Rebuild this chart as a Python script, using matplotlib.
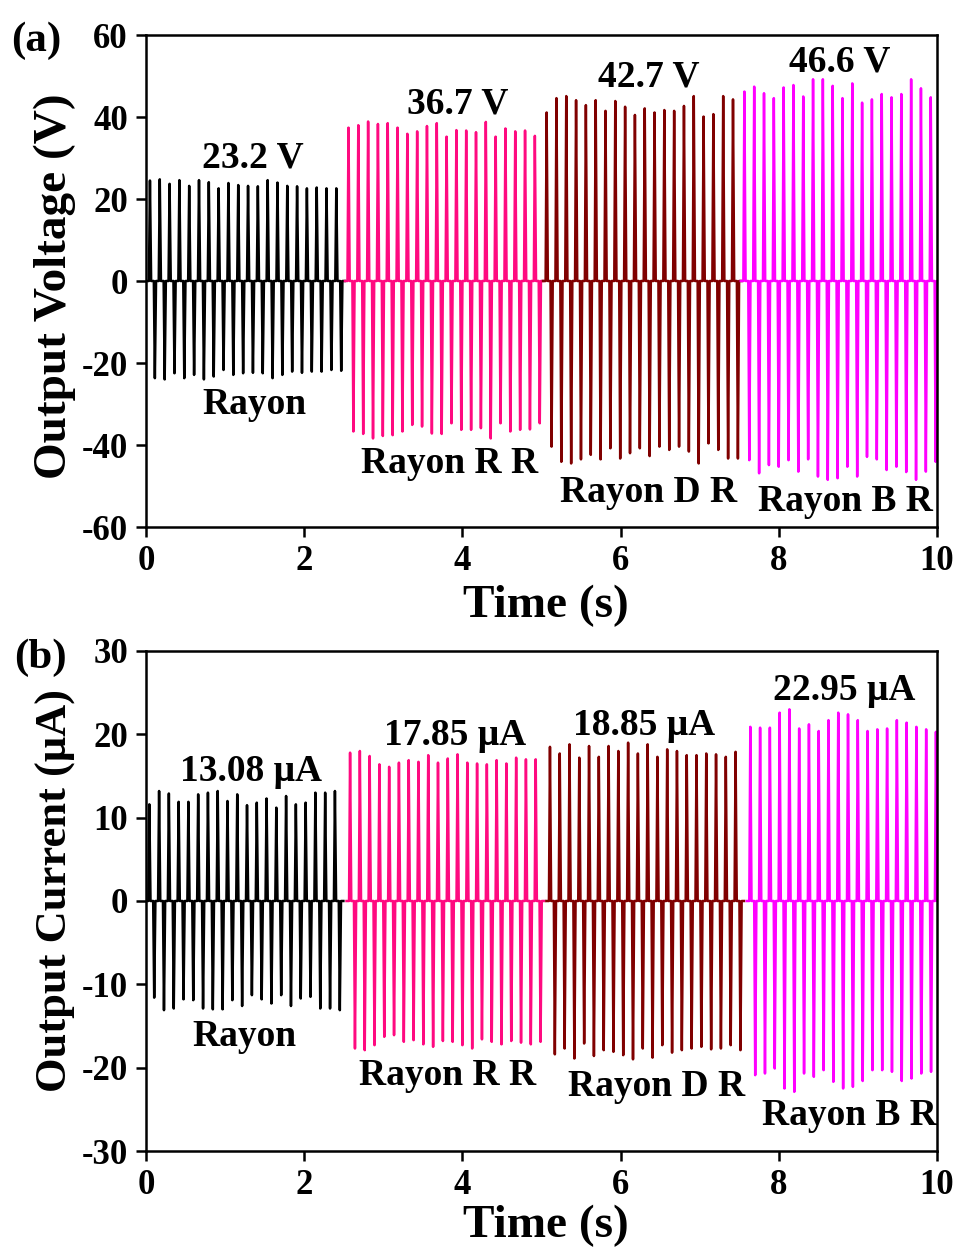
import matplotlib
matplotlib.use("Agg")
import matplotlib.pyplot as plt

plt.rcParams['font.family'] = ['Liberation Serif', 'DejaVu Serif']
plt.rcParams['font.weight'] = 'bold'
plt.rcParams['axes.labelweight'] = 'bold'
plt.rcParams['axes.unicode_minus'] = False

# ---- sample names and colours ----
samples = ["Rayon", "Rayon R R", "Rayon D R", "Rayon B R"]
colors = ["#000000", "#FF0A80", "#800000", "#FF00FF"]

# ---- output voltage: peak values of each pulse (V) ----
v_first = [0.05, 2.56, 5.065, 7.565]        # time of first positive pulse (s)
v_period = 0.124                             # pulse repetition period (s)
v_labels = ["23.2 V", "36.7 V", "42.7 V", "46.6 V"]

v_rayon_pos = [24.5, 24.8, 23.7, 24.6, 23.2, 24.6, 24.1, 22.6, 23.9, 23.4,
               23.2, 23.1, 24.6, 24.0, 23.2, 23.1, 22.6, 22.8, 22.6, 22.6]
v_rayon_neg = [-23.7, -24.0, -22.5, -23.7, -22.9, -24.0, -23.3, -21.7, -22.9, -22.5,
               -22.4, -22.5, -23.7, -22.9, -22.1, -22.4, -22.1, -22.1, -21.7, -21.9]
v_rr_pos = [37.4, 38.0, 38.9, 38.3, 38.5, 37.4, 35.9, 36.5, 37.8, 38.5,
            35.2, 36.8, 36.7, 36.3, 38.8, 35.2, 37.2, 36.5, 36.7, 35.4]
v_rr_neg = [-36.7, -37.3, -38.4, -37.8, -37.6, -36.7, -35.1, -35.5, -37.2, -37.3,
            -34.7, -36.3, -36.3, -35.9, -38.4, -34.7, -36.7, -36.3, -36.2, -34.7]
v_dr_pos = [41.1, 44.6, 45.1, 44.1, 42.9, 44.1, 41.5, 43.9, 42.5, 40.5,
            42.1, 41.1, 41.7, 41.5, 42.7, 45.1, 40.1, 40.7, 45.1, 44.3]
v_dr_neg = [-40.4, -44.1, -44.5, -43.5, -42.4, -43.5, -40.8, -43.3, -42.0, -40.8,
            -42.7, -40.4, -41.2, -40.4, -41.6, -44.5, -39.6, -41.2, -43.3, -43.3]
v_br_pos = [46.2, 47.4, 45.8, 44.6, 47.2, 47.8, 45.0, 49.2, 49.2, 47.6,
            44.6, 48.2, 43.5, 44.3, 45.6, 44.8, 45.6, 49.2, 47.0, 44.8]
v_br_neg = [-43.7, -46.9, -44.9, -45.3, -43.7, -46.5, -43.5, -47.7, -48.5, -48.1,
            -45.3, -47.7, -42.9, -43.5, -46.1, -45.3, -46.6, -48.5, -46.5, -44.1]

# ---- output current: peak values of each pulse (uA) ----
i_first = [0.042, 2.58, 5.107, 7.64]
i_period = 0.1235
i_labels = ["13.08 μA", "17.85 μA", "18.85 μA", "22.95 μA"]

i_rayon_pos = [11.6, 13.2, 12.9, 11.9, 11.9, 12.8, 13.0, 13.2, 12.0, 12.8,
               11.5, 11.8, 12.3, 11.2, 12.6, 11.6, 11.8, 13.0, 13.0, 13.2]
i_rayon_neg = [-11.6, -13.1, -12.9, -11.8, -11.9, -12.9, -13.0, -13.0, -11.9, -12.6,
               -11.3, -11.8, -12.3, -11.3, -12.6, -11.7, -11.5, -12.9, -12.9, -13.1]
i_rr_pos = [17.8, 18.0, 17.4, 16.4, 16.1, 16.6, 16.9, 16.7, 17.5, 16.6,
            17.1, 17.6, 16.6, 16.5, 16.4, 16.9, 16.5, 17.2, 17.0, 17.0]
i_rr_neg = [-17.7, -17.9, -17.3, -16.3, -16.1, -16.9, -16.7, -17.2, -17.5, -16.8,
            -16.9, -17.3, -17.7, -16.6, -16.9, -17.2, -16.8, -17.0, -17.2, -16.9]
i_dr_pos = [18.5, 17.7, 18.8, 17.2, 18.6, 17.3, 18.6, 18.0, 19.0, 17.7,
            18.8, 17.3, 18.2, 18.0, 17.5, 17.5, 17.7, 17.6, 17.3, 17.9]
i_dr_neg = [-18.4, -17.7, -18.9, -17.1, -18.6, -17.9, -18.1, -18.5, -19.0, -17.7,
            -18.8, -17.3, -18.2, -17.9, -17.7, -17.5, -17.8, -17.7, -17.3, -17.9]
i_br_pos = [20.9, 20.8, 20.8, 22.6, 23.0, 20.7, 21.2, 20.4, 21.7, 22.6,
            22.4, 21.7, 20.4, 20.6, 20.7, 21.7, 21.4, 20.9, 20.6, 20.3]
i_br_neg = [-20.9, -20.7, -20.1, -22.5, -22.9, -20.7, -21.1, -20.3, -21.7, -22.5,
            -22.3, -21.6, -20.3, -20.3, -20.5, -21.6, -21.3, -20.7, -20.5]

xticks = [0, 2, 4, 6, 8, 10]
v_yticks = [-60, -40, -20, 0, 20, 40, 60]
i_yticks = [-30, -20, -10, 0, 10, 20, 30]

# label anchor positions (data units)
v_peak_pos = [(1.35, 30.0), (3.94, 43.2), (6.35, 49.8), (8.77, 53.4)]
v_name_pos = [(1.37, -30.2), (3.84, -44.4), (6.35, -51.5), (8.84, -53.9)]
i_peak_pos = [(1.33, 15.5), (3.91, 19.8), (6.30, 21.1), (8.83, 25.2)]
i_name_pos = [(1.24, -16.3), (3.81, -20.9), (6.45, -22.2), (8.89, -25.7)]


def pulse_train(t_first, period, pos, neg, lead=0.045, tail=0.03,
                rise=0.013, fall=0.015):
    """Alternating positive/negative spikes on a zero baseline."""
    t = [max(t_first - lead, 0.0)]
    y = [0.0]
    for k, p in enumerate(pos):
        tp = t_first + k * period
        t += [tp - rise, tp, tp + fall]
        y += [0.0, p, 0.0]
        if k < len(neg):
            tn = tp + period / 2
            t += [tn - rise, tn, tn + fall]
            y += [0.0, neg[k], 0.0]
    t.append(t[-1] + tail)
    y.append(0.0)
    return t, y


W, H = 964, 1250
fig = plt.figure(figsize=(W / 100, H / 100), dpi=100)
ax_v = fig.add_axes([146 / W, 1 - 527 / H, 791 / W, 492 / H])
ax_i = fig.add_axes([146 / W, 1 - 1151 / H, 791 / W, 500 / H])

v_pos = [v_rayon_pos, v_rr_pos, v_dr_pos, v_br_pos]
v_neg = [v_rayon_neg, v_rr_neg, v_dr_neg, v_br_neg]
i_pos = [i_rayon_pos, i_rr_pos, i_dr_pos, i_br_pos]
i_neg = [i_rayon_neg, i_rr_neg, i_dr_neg, i_br_neg]

for k in range(4):
    t, y = pulse_train(v_first[k], v_period, v_pos[k], v_neg[k])
    ax_v.plot(t, y, color=colors[k], lw=1.8, solid_joinstyle='round')
    t, y = pulse_train(i_first[k], i_period, i_pos[k], i_neg[k])
    ax_i.plot(t, y, color=colors[k], lw=1.8, solid_joinstyle='round')

tfs = 27
for k in range(4):
    ax_v.text(*v_peak_pos[k], v_labels[k], ha='center', va='center', fontsize=tfs, fontweight='bold')
    ax_v.text(*v_name_pos[k], samples[k], ha='center', va='center', fontsize=tfs, fontweight='bold')
    ax_i.text(*i_peak_pos[k], i_labels[k], ha='center', va='center', fontsize=tfs, fontweight='bold')
    ax_i.text(*i_name_pos[k], samples[k], ha='center', va='center', fontsize=tfs, fontweight='bold')

for ax, yt, ylab, yfs in [(ax_v, v_yticks, "Output Voltage (V)", 34),
                          (ax_i, i_yticks, "Output Current (μA)", 32)]:
    ax.set_xlim(0, 10)
    ax.set_ylim(yt[0], yt[-1])
    ax.set_xticks(xticks)
    ax.set_yticks(yt)
    ax.tick_params(direction='out', length=7, width=1.8, labelsize=25, pad=6)
    for lab in ax.get_xticklabels() + ax.get_yticklabels():
        lab.set_fontweight('bold')
    for sp in ax.spines.values():
        sp.set_linewidth(1.8)
    ax.set_xlabel("Time (s)", fontsize=34, fontweight='bold')
    ax.set_ylabel(ylab, fontsize=yfs, fontweight='bold')

ax_v.xaxis.set_label_coords(0.506, -0.118)
ax_v.yaxis.set_label_coords(-0.088, 0.49)
ax_i.xaxis.set_label_coords(0.506, -0.108)
ax_i.yaxis.set_label_coords(-0.088, 0.52)

fig.text(11 / W, 1 - 41 / H, "(a)", fontsize=31, fontweight='bold', ha='left', va='center')
fig.text(14 / W, 1 - 658 / H, "(b)", fontsize=31, fontweight='bold', ha='left', va='center')

fig.savefig("out.png", dpi=100, facecolor='white')
